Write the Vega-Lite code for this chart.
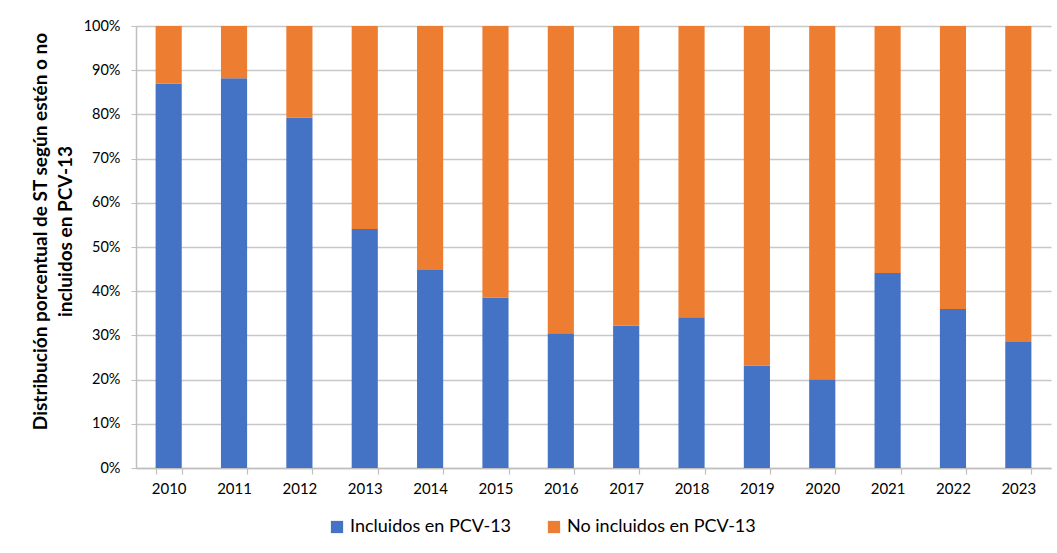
{
  "$schema": "https://vega.github.io/schema/vega-lite/v6.json",
  "width": 915,
  "height": 442,
  "autosize": {"type": "none"},
  "padding": {"left": 136, "top": 26, "right": 6, "bottom": 85},
  "background": "white",
  "config": {
    "font": "Lato",
    "view": {"stroke": null},
    "axis": {"labelFont": "Lato", "titleFont": "Lato"}
  },
  "data": {
    "values": [
      {"year": "2010", "grupo": "Incluidos en PCV-13", "pct": 87.0},
      {"year": "2010", "grupo": "No incluidos en PCV-13", "pct": 13.0},
      {"year": "2011", "grupo": "Incluidos en PCV-13", "pct": 88.2},
      {"year": "2011", "grupo": "No incluidos en PCV-13", "pct": 11.8},
      {"year": "2012", "grupo": "Incluidos en PCV-13", "pct": 79.3},
      {"year": "2012", "grupo": "No incluidos en PCV-13", "pct": 20.7},
      {"year": "2013", "grupo": "Incluidos en PCV-13", "pct": 54.1},
      {"year": "2013", "grupo": "No incluidos en PCV-13", "pct": 45.9},
      {"year": "2014", "grupo": "Incluidos en PCV-13", "pct": 44.8},
      {"year": "2014", "grupo": "No incluidos en PCV-13", "pct": 55.2},
      {"year": "2015", "grupo": "Incluidos en PCV-13", "pct": 38.6},
      {"year": "2015", "grupo": "No incluidos en PCV-13", "pct": 61.4},
      {"year": "2016", "grupo": "Incluidos en PCV-13", "pct": 30.5},
      {"year": "2016", "grupo": "No incluidos en PCV-13", "pct": 69.5},
      {"year": "2017", "grupo": "Incluidos en PCV-13", "pct": 32.2},
      {"year": "2017", "grupo": "No incluidos en PCV-13", "pct": 67.8},
      {"year": "2018", "grupo": "Incluidos en PCV-13", "pct": 34.1},
      {"year": "2018", "grupo": "No incluidos en PCV-13", "pct": 65.9},
      {"year": "2019", "grupo": "Incluidos en PCV-13", "pct": 23.2},
      {"year": "2019", "grupo": "No incluidos en PCV-13", "pct": 76.8},
      {"year": "2020", "grupo": "Incluidos en PCV-13", "pct": 20.1},
      {"year": "2020", "grupo": "No incluidos en PCV-13", "pct": 79.9},
      {"year": "2021", "grupo": "Incluidos en PCV-13", "pct": 44.1},
      {"year": "2021", "grupo": "No incluidos en PCV-13", "pct": 55.9},
      {"year": "2022", "grupo": "Incluidos en PCV-13", "pct": 36.0},
      {"year": "2022", "grupo": "No incluidos en PCV-13", "pct": 64.0},
      {"year": "2023", "grupo": "Incluidos en PCV-13", "pct": 28.5},
      {"year": "2023", "grupo": "No incluidos en PCV-13", "pct": 71.5}
    ]
  },
  "mark": {"type": "bar"},
  "encoding": {
    "x": {
      "field": "year",
      "type": "ordinal",
      "scale": {"paddingInner": 0.6, "paddingOuter": 0.3},
      "axis": {
        "title": null,
        "labelAngle": 0,
        "labelFontSize": 15,
        "labelColor": "#000000",
        "labelPadding": 7,
        "tickBand": "extent",
        "tickSize": 6,
        "tickColor": "#bfbfbf",
        "domainColor": "#bfbfbf",
        "domainWidth": 1.5,
        "tickWidth": 1.2
      }
    },
    "y": {
      "field": "pct",
      "type": "quantitative",
      "stack": "zero",
      "scale": {"domain": [0, 100], "nice": false},
      "axis": {
        "values": [0, 10, 20, 30, 40, 50, 60, 70, 80, 90, 100],
        "labelExpr": "datum.value + '%'",
        "labelFontSize": 14.5,
        "labelColor": "#000000",
        "labelPadding": 11,
        "tickSize": 5,
        "tickColor": "#bfbfbf",
        "domainColor": "#bfbfbf",
        "domainWidth": 1.5,
        "gridColor": "#c8c8c8",
        "gridWidth": 1.5,
        "title": ["Distribución porcentual de ST según estén o no", "incluidos en PCV-13"],
        "titleFontSize": 19,
        "titleFontWeight": "bold",
        "titleColor": "#000000",
        "titleLineHeight": 25,
        "titleX": -86,
        "titleY": 205,
        "titleAlign": "center",
        "titleBaseline": "bottom",
        "titleAngle": -90
      }
    },
    "color": {
      "field": "grupo",
      "type": "nominal",
      "scale": {
        "domain": ["Incluidos en PCV-13", "No incluidos en PCV-13"],
        "range": ["#4472c4", "#ed7d31"]
      },
      "legend": {
        "title": null,
        "orient": "none",
        "direction": "horizontal",
        "legendX": 192,
        "legendY": 492,
        "symbolType": "square",
        "symbolSize": 150,
        "symbolStrokeWidth": 0,
        "labelFontSize": 18,
        "labelLimit": 400,
        "labelColor": "#000000",
        "labelOffset": 4,
        "columnPadding": 33
      }
    },
    "order": {"field": "grupo", "sort": "ascending"}
  }
}
